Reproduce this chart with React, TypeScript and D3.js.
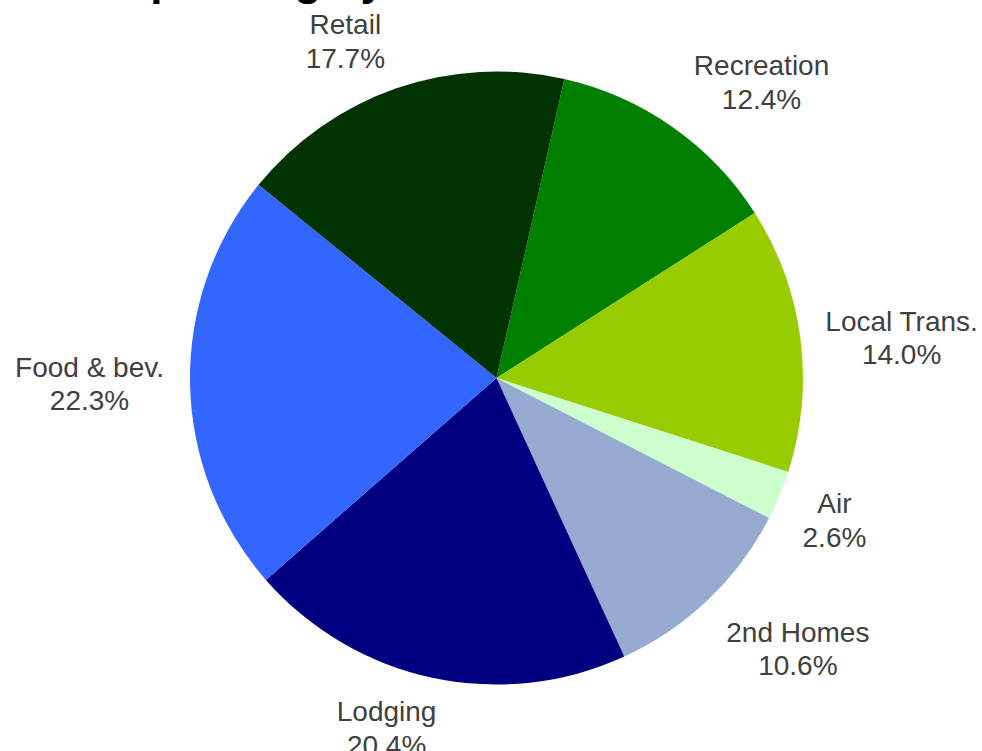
import React from "react";
import * as d3 from "d3";

const categories = ["Recreation", "Local Trans.", "Air", "2nd Homes", "Lodging", "Food & bev.", "Retail"];
const shares = [12.4, 14.0, 2.6, 10.6, 20.4, 22.3, 17.7];
const colors = ["#008000", "#99CC00", "#CCFFCC", "#96AAD2", "#000080", "#3366FF", "#003300"];
const titleText = "Spending by Sector";

// label layout: angle (deg, clockwise from 12 o'clock) and distance in radius units
const labelAngleDeg = [41.9, 84.4, 112.9, 132.0, 197.4, 269.1, 335.8];
const labelDist = [1.295, 1.328, 1.197, 1.323, 1.199, 1.328, 1.203];

const W = 982;
const H = 751;
const cx = 496.5;
const cy = 378;
const R = 306.5;
const startDeg = 12.8;

export default function App() {
  const pie = d3
    .pie<number>()
    .sort(null)
    .value((d) => d)
    .startAngle((startDeg * Math.PI) / 180)
    .endAngle((startDeg * Math.PI) / 180 + 2 * Math.PI);
  const arcs = pie(shares);
  const arc = d3.arc<d3.PieArcDatum<number>>().innerRadius(0).outerRadius(R);
  const fmt = d3.format(".1f");

  return (
    <svg
      width={W}
      height={H}
      style={{ position: "absolute", left: 0, top: 0, background: "#fff" }}
    >
      <text
        x={121}
        y={-5}
        fontFamily="'Liberation Sans', Arial, sans-serif"
        fontWeight="bold"
        fontSize={44}
        fill="#000"
      >
        {titleText}
      </text>
      <g transform={`translate(${cx},${cy})`}>
        {arcs.map((a, i) => (
          <path key={categories[i]} d={arc(a) || ""} fill={colors[i]} />
        ))}
      </g>
      {categories.map((c, i) => {
        const t = (labelAngleDeg[i] * Math.PI) / 180;
        const d = labelDist[i] * R;
        const x = cx + d * Math.sin(t);
        const y = cy - d * Math.cos(t);
        return (
          <text
            key={c}
            x={x}
            y={y - 7.5}
            textAnchor="middle"
            fontFamily="'Liberation Sans', Arial, sans-serif"
            fontSize={28}
            fill="#404040"
          >
            <tspan x={x}>{c}</tspan>
            <tspan x={x} dy={33.5}>
              {fmt(shares[i])}%
            </tspan>
          </text>
        );
      })}
    </svg>
  );
}
